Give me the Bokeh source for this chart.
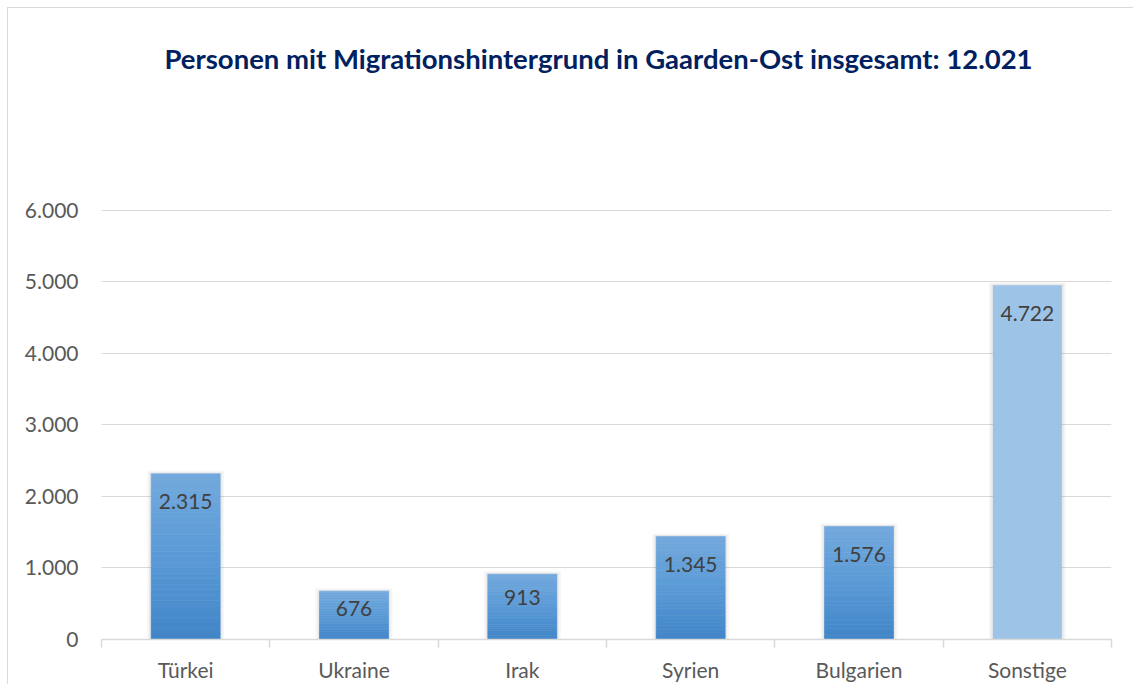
from bokeh.plotting import figure
from bokeh.models import Range1d, FixedTicker
from bokeh.core.properties import value
from bokeh.embed import file_html
from bokeh.resources import INLINE

# ---- data ----
categories = ["Türkei", "Ukraine", "Irak", "Syrien", "Bulgarien", "Sonstige"]
bar_values = [2315, 676, 913, 1440, 1580, 4950]          # drawn bar heights
bar_labels = ["2.315", "676", "913", "1.345", "1.576", "4.722"]  # printed data labels
y_ticks = [0, 1000, 2000, 3000, 4000, 5000, 6000]
y_tick_labels = ["0", "1.000", "2.000", "3.000", "4.000", "5.000", "6.000"]
title_text = "Personen mit Migrationshintergrund in Gaarden-Ost insgesamt: 12.021"

# ---- styling / layout ----
FONT = "Lato"
flat_categories = {"Sonstige"}
flat_color = "#9dc3e6"
grad_stops = [(0.0, (0x41, 0x85, 0xc8)), (0.5, (0x5a, 0x9a, 0xd6)), (1.0, (0x73, 0xa9, 0xdd))]

W, H = 1133, 684
ML, MR, MB = 101, 22, 44
GRID_TOP_PX = 210        # pixel row of the top gridline
TITLE_PX_Y = 58          # pixel row of the title centre
TITLE_PX_X = 598         # pixel column of the title centre
frame_bottom = H - MB
plot_h = frame_bottom - GRID_TOP_PX
frame_w = W - ML - MR
y_max = y_ticks[-1]
n = len(categories)
upx = y_max / plot_h           # data units per vertical pixel
xpx = n / frame_w              # data units per horizontal pixel
y_end = y_max + GRID_TOP_PX * upx
bar_w = 0.41


def grad_color(t):
    for (t0, c0), (t1, c1) in zip(grad_stops[:-1], grad_stops[1:]):
        if t0 <= t <= t1:
            f = (t - t0) / (t1 - t0)
            c = [round(a + (b - a) * f) for a, b in zip(c0, c1)]
            return "#%02x%02x%02x" % tuple(c)
    return "#%02x%02x%02x" % grad_stops[-1][1]


p = figure(width=W, height=H, output_backend="svg", toolbar_location=None,
           x_range=Range1d(0, n), y_range=Range1d(0, y_end),
           min_border_left=ML, min_border_right=MR, min_border_top=0, min_border_bottom=MB)
p.outline_line_color = None
p.background_fill_color = None
p.border_fill_color = None
p.styles = {
    "background": "linear-gradient(#d9d9d9, #d9d9d9) 7px 7px / 1px calc(100% - 7px) no-repeat, "
                  "linear-gradient(#d9d9d9, #d9d9d9) 7px 7px / calc(100% - 7px) 1px no-repeat, white"
}

xs = [i + 0.5 for i in range(n)]

# shadows
p.vbar(x=xs, top=[v + 3 * upx for v in bar_values], width=bar_w + 8 * xpx, bottom=0,
       fill_color="#000000", fill_alpha=0.035, line_color=None)
p.vbar(x=xs, top=[v + 1.5 * upx for v in bar_values], width=bar_w + 4 * xpx, bottom=0,
       fill_color="#000000", fill_alpha=0.05, line_color=None)

# bars (gradient built from slices of each bar)
N = 30
sx, sb, st, sc = [], [], [], []
fx, ft = [], []
for x, cat, v in zip(xs, categories, bar_values):
    if cat in flat_categories:
        fx.append(x)
        ft.append(v)
        continue
    for k in range(N):
        sx.append(x)
        sb.append(v * k / N)
        st.append(v * (k + 1) / N)
        sc.append(grad_color((k + 0.5) / N))
p.vbar(x=sx, bottom=sb, top=st, width=bar_w, fill_color=sc, line_color=sc, line_width=0.6)
p.vbar(x=fx, bottom=0, top=ft, width=bar_w, fill_color=flat_color, line_color=None)

# data labels
offsets = []
for v in bar_values:
    hpx = v / upx
    offsets.append(28 if hpx > 70 else hpx * 0.36)
p.text(x=xs, y=bar_values, text=bar_labels, y_offset=offsets,
       text_align="center", text_baseline="middle",
       text_font=value(FONT), text_font_size="21px", text_color="#404040")

# title
p.text(x=[(TITLE_PX_X - ML) * xpx], y=[y_max + (GRID_TOP_PX - TITLE_PX_Y) * upx], text=[title_text],
       text_align="center", text_baseline="middle", text_font=value(FONT),
       text_font_style="bold", text_font_size="27.5px", text_color="#002060")

# axes
p.yaxis.ticker = FixedTicker(ticks=y_ticks)
p.yaxis.major_label_overrides = {t: l for t, l in zip(y_ticks, y_tick_labels)}
p.yaxis.axis_line_color = None
p.yaxis.major_tick_line_color = None
p.yaxis.minor_tick_line_color = None
p.yaxis.major_label_standoff = 17
p.yaxis.major_label_text_font = FONT
p.yaxis.major_label_text_font_size = "21px"
p.yaxis.major_label_text_color = "#595959"

p.xaxis.ticker = FixedTicker(ticks=xs, minor_ticks=list(range(n + 1)))
p.xaxis.major_label_overrides = {x: c for x, c in zip(xs, categories)}
p.xaxis.axis_line_color = "#d9d9d9"
p.xaxis.axis_line_width = 1.5
p.xaxis.major_tick_line_color = None
p.xaxis.major_tick_in = 0
p.xaxis.major_tick_out = 0
p.xaxis.minor_tick_line_color = "#d9d9d9"
p.xaxis.minor_tick_line_width = 1.5
p.xaxis.minor_tick_in = 0
p.xaxis.minor_tick_out = 8
p.xaxis.major_label_standoff = 9
p.xaxis.major_label_text_font = FONT
p.xaxis.major_label_text_font_size = "21px"
p.xaxis.major_label_text_color = "#595959"

p.xgrid.grid_line_color = None
p.ygrid.grid_line_color = "#d9d9d9"
p.ygrid.grid_line_width = 1

open("out.html", "w").write(file_html(p, INLINE))
